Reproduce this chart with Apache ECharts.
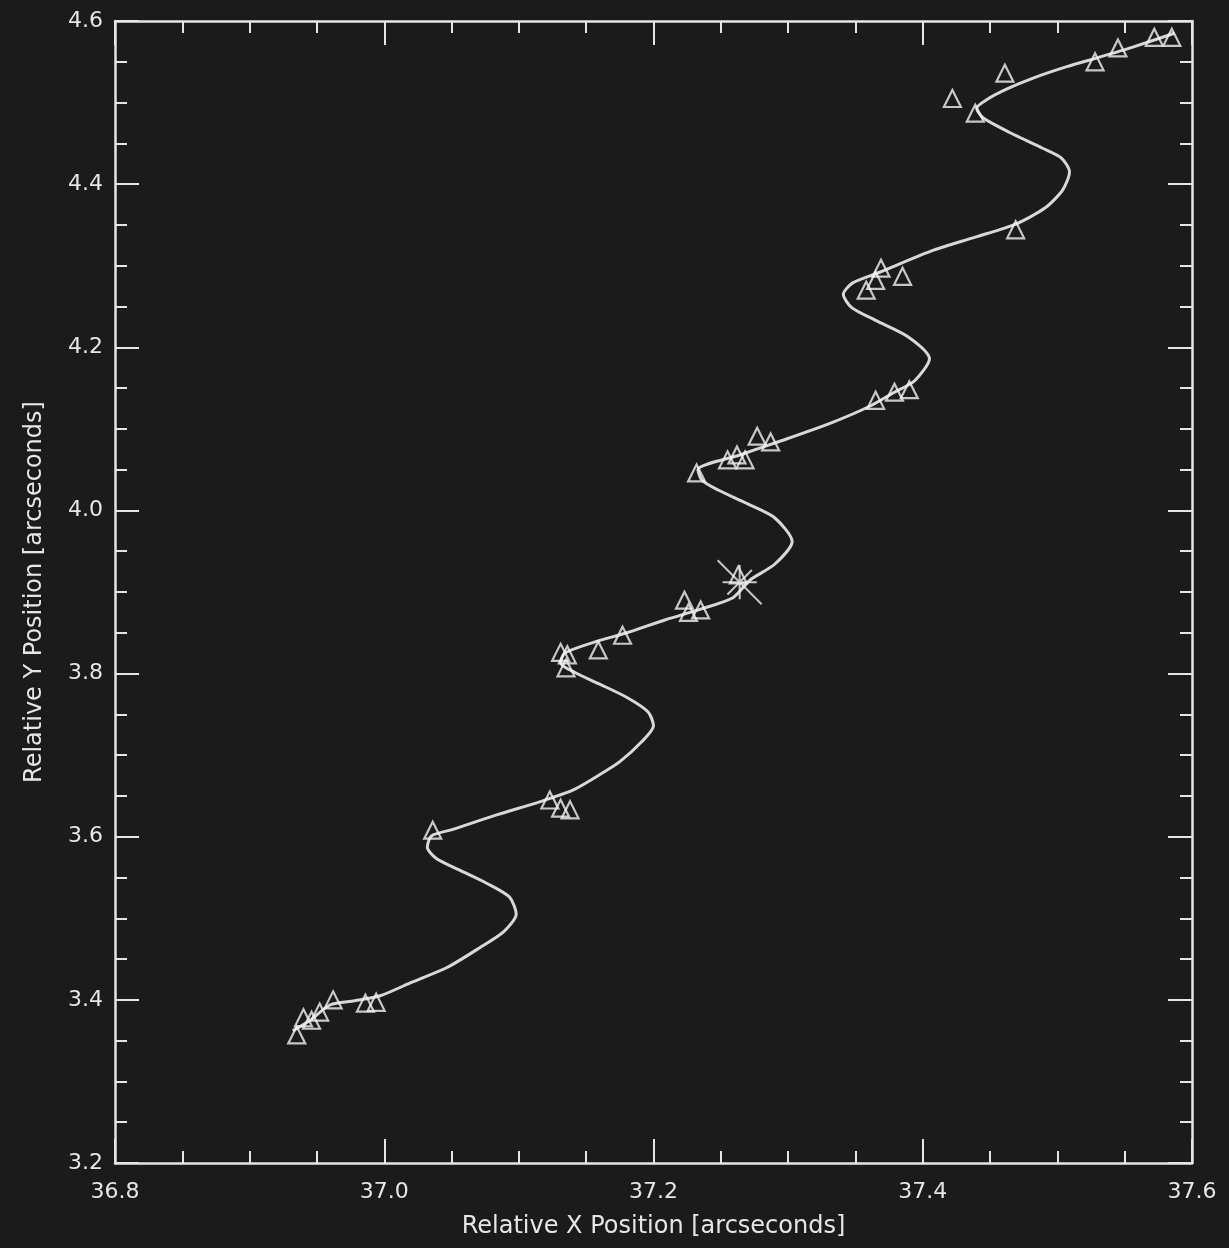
<!DOCTYPE html>
<html>
<head>
<meta charset="utf-8">
<script src="https://cdn.jsdelivr.net/npm/echarts@6/dist/echarts.min.js"></script>
<style>
html,body{margin:0;padding:0;background:#1b1b1b;}
#c{width:1229px;height:1248px;}
</style>
</head>
<body>
<div id="c"></div>
<script>
// Fitted track
var curveX = [36.932,36.945,36.960,36.978,36.997,37.021,37.047,37.071,37.089,37.098,37.093,37.076,37.056,37.039,37.032,37.035,37.051,37.084,37.116,37.140,37.160,37.175,37.191,37.200,37.196,37.180,37.160,37.142,37.131,37.134,37.155,37.180,37.209,37.235,37.259,37.272,37.290,37.303,37.290,37.270,37.248,37.236,37.233,37.264,37.296,37.333,37.361,37.378,37.394,37.405,37.389,37.365,37.347,37.341,37.348,37.368,37.408,37.439,37.469,37.491,37.504,37.509,37.503,37.489,37.465,37.445,37.440,37.448,37.463,37.482,37.507,37.532,37.556,37.587];
var curveY = [3.362,3.375,3.394,3.399,3.405,3.422,3.440,3.464,3.484,3.505,3.526,3.543,3.559,3.573,3.587,3.601,3.609,3.627,3.643,3.657,3.676,3.692,3.716,3.736,3.753,3.771,3.787,3.801,3.813,3.825,3.838,3.850,3.866,3.879,3.893,3.915,3.934,3.962,3.991,4.008,4.025,4.037,4.050,4.068,4.086,4.108,4.128,4.144,4.159,4.186,4.213,4.233,4.249,4.265,4.279,4.292,4.319,4.335,4.351,4.371,4.393,4.415,4.432,4.444,4.463,4.481,4.493,4.504,4.517,4.530,4.544,4.556,4.568,4.585];
// Observed positions (triangles)
var obsX = [36.935,36.940,36.946,36.952,36.962,36.986,36.994,37.036,37.123,37.131,37.138,37.131,37.136,37.135,37.159,37.177,37.223,37.226,37.235,37.263,37.232,37.255,37.262,37.268,37.277,37.287,37.365,37.379,37.390,37.369,37.365,37.358,37.385,37.469,37.422,37.439,37.461,37.528,37.545,37.572,37.585];
var obsY = [3.357,3.378,3.375,3.385,3.400,3.396,3.397,3.608,3.645,3.635,3.633,3.826,3.823,3.807,3.829,3.847,3.890,3.875,3.878,3.921,4.046,4.062,4.068,4.062,4.091,4.084,4.135,4.145,4.148,4.297,4.282,4.270,4.287,4.344,4.505,4.487,4.536,4.550,4.567,4.580,4.580];
// Reference epoch marker (asterisk)
var starX = [37.264];
var starY = [3.912];
var xTicks = [36.8, 37.0, 37.2, 37.4, 37.6];
var yTicks = [3.2, 3.4, 3.6, 3.8, 4.0, 4.2, 4.4, 4.6];

function zip(a, b){ return a.map(function(v,i){ return [v, b[i]]; }); }

var fg = '#e6e6e6';
var lbl = {color: fg, fontFamily: 'DejaVu Sans', fontSize: 22};
function axisBase(extra){
  var o = {
    type: 'value',
    axisLine: {show: true, onZero: false, lineStyle: {color: fg, width: 2.5}},
    axisTick: {show: true, inside: true, length: 24, lineStyle: {color: fg, width: 2}},
    minorTick: {show: true, splitNumber: 4, length: 12, lineStyle: {color: fg, width: 2}},
    splitLine: {show: false},
    minorSplitLine: {show: false}
  };
  for (var k in extra) o[k] = extra[k];
  return o;
}

var chart = echarts.init(document.getElementById('c'), null, {renderer: 'canvas'});
chart.setOption({
  backgroundColor: '#1b1b1b',
  animation: false,
  grid: {left: 115, right: 37, top: 21, bottom: 85},
  xAxis: [
    axisBase({position: 'bottom', min: xTicks[0], max: xTicks[xTicks.length-1], interval: 0.2,
      name: 'Relative X Position [arcseconds]', nameLocation: 'middle', nameGap: 52,
      nameTextStyle: {color: fg, fontFamily: 'DejaVu Sans', fontSize: 24},
      axisLabel: Object.assign({margin: 18, formatter: function(v){ return v.toFixed(1); }}, lbl)}),
    axisBase({position: 'top', min: xTicks[0], max: xTicks[xTicks.length-1], interval: 0.2,
      axisLabel: {show: false}})
  ],
  yAxis: [
    axisBase({position: 'left', min: yTicks[0], max: yTicks[yTicks.length-1], interval: 0.2,
      name: 'Relative Y Position [arcseconds]', nameLocation: 'middle', nameGap: 68,
      nameTextStyle: {color: fg, fontFamily: 'DejaVu Sans', fontSize: 24},
      axisLabel: Object.assign({margin: 12, formatter: function(v){ return v.toFixed(1); }}, lbl)}),
    axisBase({position: 'right', min: yTicks[0], max: yTicks[yTicks.length-1], interval: 0.2,
      axisLabel: {show: false}})
  ],
  series: [
    {
      type: 'line', xAxisIndex: 0, yAxisIndex: 0,
      data: zip(curveX, curveY), smooth: 0.25, showSymbol: false,
      lineStyle: {color: '#d8d8d8', width: 3}, z: 2
    },
    {
      type: 'scatter', xAxisIndex: 0, yAxisIndex: 0,
      data: zip(obsX, obsY), symbol: 'triangle', symbolSize: 17,
      itemStyle: {color: 'rgba(0,0,0,0)', borderColor: '#f2f2f2', borderWidth: 2.2}, z: 3
    },
    {
      type: 'scatter', xAxisIndex: 0, yAxisIndex: 0,
      data: zip(starX, starY),
      symbol: 'path://M0,-14L0,14M-14,0L14,0M-18,-18L18,18M-10,10L10,-10',
      symbolSize: 44,
      itemStyle: {color: 'rgba(0,0,0,0)', borderColor: '#f0f0f0', borderWidth: 2}, z: 4
    }
  ]
});
</script>
</body>
</html>
